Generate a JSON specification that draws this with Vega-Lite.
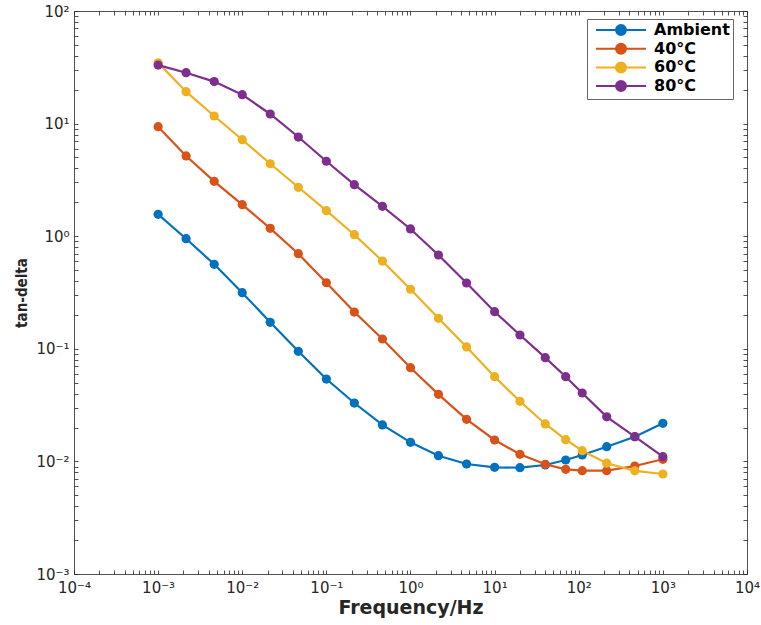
{
  "$schema": "https://vega.github.io/schema/vega-lite/v6.json",
  "width": 673,
  "height": 563,
  "autosize": {"type": "none"},
  "padding": {"left": 74, "top": 11, "right": 14, "bottom": 51},
  "background": "white",
  "config": {"view": {"stroke": null}},
  "data": {"values": [
    {"f": 0.001, "v": 1.565, "s": "Ambient"},
    {"f": 0.00215, "v": 0.950, "s": "Ambient"},
    {"f": 0.00464, "v": 0.563, "s": "Ambient"},
    {"f": 0.01, "v": 0.315, "s": "Ambient"},
    {"f": 0.0215, "v": 0.172, "s": "Ambient"},
    {"f": 0.0464, "v": 0.095, "s": "Ambient"},
    {"f": 0.1, "v": 0.0539, "s": "Ambient"},
    {"f": 0.215, "v": 0.033, "s": "Ambient"},
    {"f": 0.464, "v": 0.0211, "s": "Ambient"},
    {"f": 1, "v": 0.01477, "s": "Ambient"},
    {"f": 2.15, "v": 0.01123, "s": "Ambient"},
    {"f": 4.64, "v": 0.00948, "s": "Ambient"},
    {"f": 10, "v": 0.00886, "s": "Ambient"},
    {"f": 20, "v": 0.00879, "s": "Ambient"},
    {"f": 40, "v": 0.00929, "s": "Ambient"},
    {"f": 70, "v": 0.01029, "s": "Ambient"},
    {"f": 110, "v": 0.0114, "s": "Ambient"},
    {"f": 215, "v": 0.01351, "s": "Ambient"},
    {"f": 464, "v": 0.01658, "s": "Ambient"},
    {"f": 1000, "v": 0.0218, "s": "Ambient"},
    {"f": 0.001, "v": 9.39, "s": "40°C"},
    {"f": 0.00215, "v": 5.16, "s": "40°C"},
    {"f": 0.00464, "v": 3.07, "s": "40°C"},
    {"f": 0.01, "v": 1.905, "s": "40°C"},
    {"f": 0.0215, "v": 1.175, "s": "40°C"},
    {"f": 0.0464, "v": 0.699, "s": "40°C"},
    {"f": 0.1, "v": 0.386, "s": "40°C"},
    {"f": 0.215, "v": 0.212, "s": "40°C"},
    {"f": 0.464, "v": 0.1222, "s": "40°C"},
    {"f": 1, "v": 0.0679, "s": "40°C"},
    {"f": 2.15, "v": 0.0394, "s": "40°C"},
    {"f": 4.64, "v": 0.02365, "s": "40°C"},
    {"f": 10, "v": 0.01549, "s": "40°C"},
    {"f": 20, "v": 0.01156, "s": "40°C"},
    {"f": 40, "v": 0.00942, "s": "40°C"},
    {"f": 70, "v": 0.00851, "s": "40°C"},
    {"f": 110, "v": 0.00827, "s": "40°C"},
    {"f": 215, "v": 0.00827, "s": "40°C"},
    {"f": 464, "v": 0.0091, "s": "40°C"},
    {"f": 1000, "v": 0.01044, "s": "40°C"},
    {"f": 0.001, "v": 34.7, "s": "60°C"},
    {"f": 0.00215, "v": 19.2, "s": "60°C"},
    {"f": 0.00464, "v": 11.68, "s": "60°C"},
    {"f": 0.01, "v": 7.19, "s": "60°C"},
    {"f": 0.0215, "v": 4.4, "s": "60°C"},
    {"f": 0.0464, "v": 2.72, "s": "60°C"},
    {"f": 0.1, "v": 1.685, "s": "60°C"},
    {"f": 0.215, "v": 1.031, "s": "60°C"},
    {"f": 0.464, "v": 0.602, "s": "60°C"},
    {"f": 1, "v": 0.338, "s": "60°C"},
    {"f": 2.15, "v": 0.1866, "s": "60°C"},
    {"f": 4.64, "v": 0.1038, "s": "60°C"},
    {"f": 10, "v": 0.0565, "s": "60°C"},
    {"f": 20, "v": 0.0342, "s": "60°C"},
    {"f": 40, "v": 0.0215, "s": "60°C"},
    {"f": 70, "v": 0.01559, "s": "60°C"},
    {"f": 110, "v": 0.01245, "s": "60°C"},
    {"f": 215, "v": 0.00964, "s": "60°C"},
    {"f": 464, "v": 0.00825, "s": "60°C"},
    {"f": 1000, "v": 0.00773, "s": "60°C"},
    {"f": 0.001, "v": 33.1, "s": "80°C"},
    {"f": 0.00215, "v": 28.3, "s": "80°C"},
    {"f": 0.00464, "v": 23.6, "s": "80°C"},
    {"f": 0.01, "v": 18.06, "s": "80°C"},
    {"f": 0.0215, "v": 12.17, "s": "80°C"},
    {"f": 0.0464, "v": 7.6, "s": "80°C"},
    {"f": 0.1, "v": 4.63, "s": "80°C"},
    {"f": 0.215, "v": 2.87, "s": "80°C"},
    {"f": 0.464, "v": 1.843, "s": "80°C"},
    {"f": 1, "v": 1.159, "s": "80°C"},
    {"f": 2.15, "v": 0.681, "s": "80°C"},
    {"f": 4.64, "v": 0.384, "s": "80°C"},
    {"f": 10, "v": 0.2136, "s": "80°C"},
    {"f": 20, "v": 0.1326, "s": "80°C"},
    {"f": 40, "v": 0.0834, "s": "80°C"},
    {"f": 70, "v": 0.0565, "s": "80°C"},
    {"f": 110, "v": 0.0405, "s": "80°C"},
    {"f": 215, "v": 0.0249, "s": "80°C"},
    {"f": 464, "v": 0.01658, "s": "80°C"},
    {"f": 1000, "v": 0.01101, "s": "80°C"}
  ]},
  "encoding": {
    "color": {
      "field": "s", "type": "nominal",
      "scale": {"domain": ["Ambient", "40°C", "60°C", "80°C"], "range": ["#0072BD", "#D95319", "#EDB120", "#7E2F8E"]},
      "legend": {
        "orient": "none", "legendX": 513, "legendY": 8,
        "title": null,
        "symbolType": "M-0.4,0L9.6,0M3.6,0A1,1,0,1,0,5.6,0A1,1,0,1,0,3.6,0Z",
        "symbolSize": 100,
        "symbolStrokeWidth": 2,
        "symbolOpacity": 1,
        "labelFont": "DejaVu Sans", "labelFontWeight": "bold", "labelFontSize": 16, "labelColor": "#000",
        "labelOffset": 48,
        "padding": 3,
        "rowPadding": 0.7,
        "strokeColor": "#666",
        "fillColor": "white",
        "encode": {"symbols": {"update": {"fill": {"scale": "color", "field": "value"}, "stroke": {"scale": "color", "field": "value"}, "strokeWidth": {"value": 2}, "opacity": {"value": 1}}}}
      }
    }
  },
  "layer": [
    {
      "mark": {"type": "line", "strokeWidth": 2.2},
      "encoding": {
        "x": {"field": "f", "type": "quantitative",
          "scale": {"type": "log", "domain": [0.0001, 10000], "nice": false},
          "axis": {"orient": "bottom", "title": "Frequency/Hz", "grid": false,
            "values": [0.0001,0.0002,0.0003,0.0004,0.0005,0.0006,0.0007,0.0008,0.0009,0.001,0.002,0.003,0.004,0.005,0.006,0.007,0.008,0.009,0.01,0.02,0.03,0.04,0.05,0.06,0.07,0.08,0.09,0.1,0.2,0.3,0.4,0.5,0.6,0.7,0.8,0.9,1,2,3,4,5,6,7,8,9,10,20,30,40,50,60,70,80,90,100,200,300,400,500,600,700,800,900,1000,2000,3000,4000,5000,6000,7000,8000,9000,10000],
            "labelExpr": "abs(datum.value / pow(10, round(log(datum.value) / LN10)) - 1) < 0.001 ? '10' + ['⁻⁴','⁻³','⁻²','⁻¹','⁰','¹','²','³','⁴'][round(log(datum.value) / LN10) + 4] : ''",
            "labelOverlap": false, "labelFlush": false,
            "labelFont": "DejaVu Sans", "labelFontSize": 15, "labelColor": "#262626", "labelPadding": 10,
            "tickSize": -4, "tickColor": "#262626", "tickWidth": 0.8,
            "domainColor": "#262626", "domainWidth": 0.8,
            "titleFont": "DejaVu Sans", "titleFontWeight": "bold", "titleFontSize": 19, "titleColor": "#262626", "titlePadding": 3}},
        "y": {"field": "v", "type": "quantitative",
          "scale": {"type": "log", "domain": [0.001, 100], "nice": false},
          "axis": {"orient": "left", "title": "tan-delta", "grid": false,
            "values": [0.001,0.002,0.003,0.004,0.005,0.006,0.007,0.008,0.009,0.01,0.02,0.03,0.04,0.05,0.06,0.07,0.08,0.09,0.1,0.2,0.3,0.4,0.5,0.6,0.7,0.8,0.9,1,2,3,4,5,6,7,8,9,10,20,30,40,50,60,70,80,90,100],
            "labelExpr": "abs(datum.value / pow(10, round(log(datum.value) / LN10)) - 1) < 0.001 ? '10' + ['⁻⁴','⁻³','⁻²','⁻¹','⁰','¹','²','³','⁴'][round(log(datum.value) / LN10) + 4] : ''",
            "labelOverlap": false, "labelFlush": false,
            "labelFont": "DejaVu Sans", "labelFontSize": 15, "labelColor": "#262626", "labelPadding": 9,
            "tickSize": -4, "tickColor": "#262626", "tickWidth": 0.8,
            "domainColor": "#262626", "domainWidth": 0.8,
            "titleFont": "'Liberation Sans Narrow', 'DejaVu Sans Condensed', sans-serif", "titleFontWeight": "bold", "titleFontSize": 15, "titleColor": "#262626", "titlePadding": 6}}
      }
    },
    {
      "mark": {"type": "point", "filled": true, "size": 85, "opacity": 1},
      "encoding": {
        "x": {"field": "f", "type": "quantitative",
          "scale": {"type": "log", "domain": [0.0001, 10000], "nice": false},
          "axis": {"orient": "top", "title": null, "labels": false, "grid": false,
            "values": [0.0001,0.0002,0.0003,0.0004,0.0005,0.0006,0.0007,0.0008,0.0009,0.001,0.002,0.003,0.004,0.005,0.006,0.007,0.008,0.009,0.01,0.02,0.03,0.04,0.05,0.06,0.07,0.08,0.09,0.1,0.2,0.3,0.4,0.5,0.6,0.7,0.8,0.9,1,2,3,4,5,6,7,8,9,10,20,30,40,50,60,70,80,90,100,200,300,400,500,600,700,800,900,1000,2000,3000,4000,5000,6000,7000,8000,9000,10000],
            "tickSize": -4, "tickColor": "#262626", "tickWidth": 0.8,
            "domainColor": "#262626", "domainWidth": 0.8}},
        "y": {"field": "v", "type": "quantitative",
          "scale": {"type": "log", "domain": [0.001, 100], "nice": false},
          "axis": {"orient": "right", "title": null, "labels": false, "grid": false,
            "values": [0.001,0.002,0.003,0.004,0.005,0.006,0.007,0.008,0.009,0.01,0.02,0.03,0.04,0.05,0.06,0.07,0.08,0.09,0.1,0.2,0.3,0.4,0.5,0.6,0.7,0.8,0.9,1,2,3,4,5,6,7,8,9,10,20,30,40,50,60,70,80,90,100],
            "tickSize": -4, "tickColor": "#262626", "tickWidth": 0.8,
            "domainColor": "#262626", "domainWidth": 0.8}}
      }
    }
  ],
  "resolve": {"axis": {"x": "independent", "y": "independent"}}
}
